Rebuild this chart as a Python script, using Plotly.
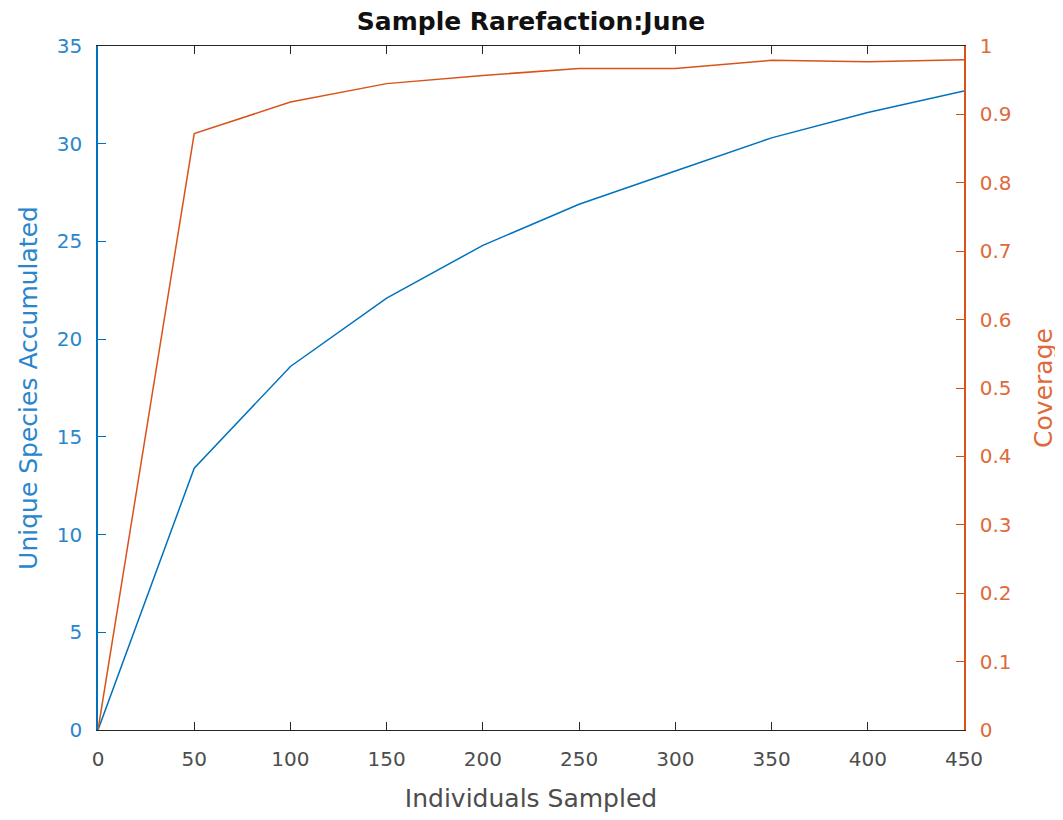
import plotly.graph_objects as go

individuals = [0, 50, 100, 150, 200, 250, 300, 350, 400, 450]
species = [0, 13.4, 18.6, 22.1, 24.8, 26.9, 28.6, 30.3, 31.6, 32.7]
coverage = [0, 0.872, 0.918, 0.945, 0.957, 0.967, 0.967, 0.979, 0.977, 0.980]

x_ticks = [0, 50, 100, 150, 200, 250, 300, 350, 400, 450]
y1_ticks = [0, 5, 10, 15, 20, 25, 30, 35]
y2_ticks = [0, 0.1, 0.2, 0.3, 0.4, 0.5, 0.6, 0.7, 0.8, 0.9, 1]
y2_labels = ["0", "0.1", "0.2", "0.3", "0.4", "0.5", "0.6", "0.7", "0.8", "0.9", "1"]

BLUE = "#0072BD"
ORANGE = "#D95319"
BLUE_T = "#2a86cc"
ORANGE_T = "#e0693a"
GRAY = "#262626"
FONT = "DejaVu Sans, Liberation Sans, Arial, sans-serif"

fig = go.Figure()
fig.add_trace(go.Scatter(x=individuals, y=species, mode="lines",
                         line=dict(color=BLUE, width=1.5), yaxis="y", showlegend=False))
fig.add_trace(go.Scatter(x=individuals, y=coverage, mode="lines",
                         line=dict(color=ORANGE, width=1.5), yaxis="y2", showlegend=False))

fig.update_layout(
    width=1063, height=820,
    margin=dict(l=90, r=107, t=38, b=98, autoexpand=False),
    paper_bgcolor="white", plot_bgcolor="white",
    font=dict(family=FONT),
    title=dict(text="<b>Sample Rarefaction:June</b>", x=0.5, xanchor="center",
               xref="paper", y=1 - 13 / 820, yref="container", yanchor="middle",
               font=dict(size=25, color="#111111")),
    xaxis=dict(range=[0, 450], tickvals=x_ticks, ticks="inside", ticklen=8,
               tickcolor=GRAY, showline=True, linecolor=GRAY, linewidth=1,
               mirror="ticks", showgrid=False, zeroline=False, automargin=False,
               ticklabelstandoff=11,
               tickfont=dict(size=20, color="#4d4d4d"),
               title=dict(text="Individuals Sampled", font=dict(size=25, color="#4d4d4d"), standoff=19)),
    yaxis=dict(range=[0, 35], tickvals=y1_ticks, ticks="inside", ticklen=8,
               tickcolor=BLUE, showline=True, linecolor=BLUE, linewidth=1.5,
               showgrid=False, zeroline=False, automargin=False,
               ticklabelstandoff=10,
               tickfont=dict(size=20, color=BLUE_T),
               title=dict(text="Unique Species Accumulated", font=dict(size=25, color=BLUE_T), standoff=12)),
    yaxis2=dict(range=[0, 1], tickvals=y2_ticks, ticktext=y2_labels, overlaying="y", side="right",
                ticks="inside", ticklen=8, tickcolor=ORANGE, showline=True,
                linecolor=ORANGE, linewidth=1.5, showgrid=False, zeroline=False,
                automargin=False, ticklabelstandoff=10,
                tickfont=dict(size=20, color=ORANGE_T),
                title=dict(text="Coverage", font=dict(size=25, color=ORANGE_T), standoff=24)),
)

fig.write_html("out.html")
